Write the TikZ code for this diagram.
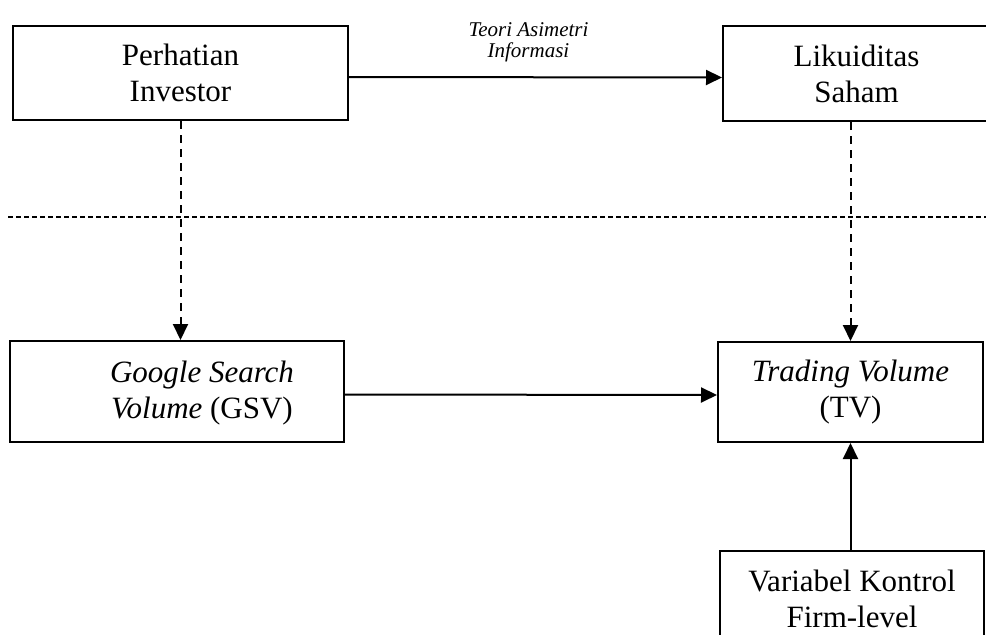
\documentclass[tikz,border=0pt]{standalone}
\usepackage{fontspec}
\setmainfont{Liberation Serif}
\usetikzlibrary{arrows.meta}
\begin{document}
\begin{tikzpicture}[x=1pt,y=-1pt,
  every node/.style={font=\fontsize{31}{36}\selectfont},
  box/.style={draw,line width=2pt,align=center,inner sep=0pt},
  tip/.style={-{Triangle[length=16pt,width=15pt]}},
  arr/.style={line width=2pt,tip},
  dashv/.style={line width=2pt,dash pattern=on 8pt off 6pt,tip},
  dashh/.style={line width=2pt,dash pattern=on 5pt off 3pt},
  lbl/.style={font=\fontsize{21}{21}\selectfont\itshape,align=center,inner sep=0pt}]
\useasboundingbox (0,0) rectangle (986,635);
\node[box,minimum width=335pt,minimum height=94pt] (P) at (180.5,73) {Perhatian\\Investor};
\node[box,minimum width=267pt,minimum height=95pt] (L) at (856.5,73.5) {Likuiditas\\Saham};
\node[box,minimum width=334pt,minimum height=101pt] (G) at (177,391.5) {};
\node[align=center,inner sep=0pt] (Gt) at (202,393) {\itshape Google Search\\\textit{Volume} (GSV)};
\node[box,minimum width=265pt,minimum height=100pt] (T) at (850.5,392) {\textit{Trading Volume}\\(TV)};
\node[box,minimum width=264pt,anchor=north,inner ysep=19pt] (V) at (852,550) {Variabel Kontrol\\Firm-level};
\coordinate (hl) at (8,217);
\coordinate (hr) at (986,217);
\draw[arr] ([yshift=-4pt]P.east) -- node[lbl,anchor=south,yshift=14pt,xshift=-7pt] (lab) {Teori Asimetri\\Informasi} ([yshift=-4pt]L.west);
\draw[dashh] (hl) -- (hr);
\draw[dashv] (P.south) -- (P.south |- G.north);
\draw[dashv] (T.north |- L.south) -- (T.north);
\draw[arr] ([yshift=-3pt]G.east) -- ([yshift=-3pt]T.west);
\draw[arr] (V.north -| T.south) -- (T.south);
\end{tikzpicture}
\end{document}
